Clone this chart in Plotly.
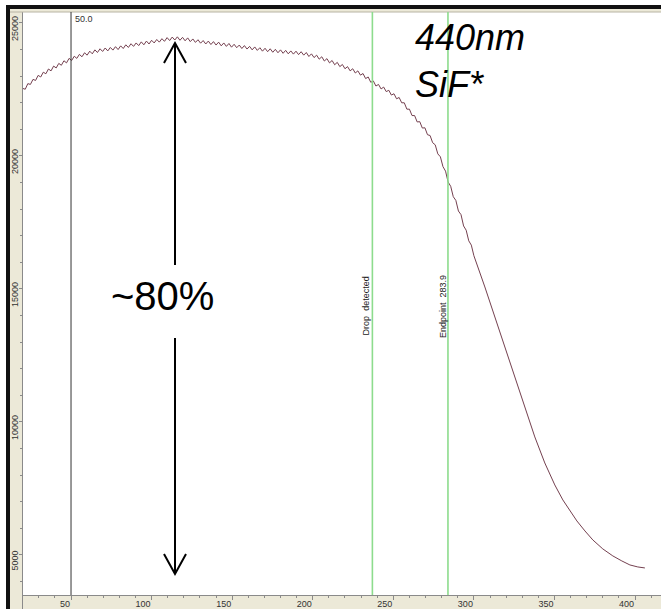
import numpy as np
import plotly.graph_objects as go

# ---- data ----
ripple_x_start = 20.0
ripple_x_step = 1.6
ripple_values = [
    22540, 22510, 22720, 22690, 22880, 22840, 23030, 22970, 23150, 23090,
    23270, 23200, 23380, 23310, 23480, 23410, 23580, 23500, 23670, 23590,
    23750, 23670, 23820, 23730, 23880, 23790, 23940, 23840, 23990, 23890,
    24030, 23930, 24060, 23950, 24080, 23980, 24110, 24000, 24140, 24040,
    24180, 24080, 24220, 24120, 24250, 24150, 24290, 24180, 24320, 24210,
    24350, 24250, 24380, 24280, 24410, 24310, 24450, 24340, 24470, 24360,
    24480, 24350, 24460, 24330, 24440, 24300, 24400, 24270, 24370, 24240,
    24340, 24210, 24320, 24190, 24300, 24170, 24280, 24140, 24250, 24120,
    24230, 24090, 24200, 24070, 24170, 24040, 24150, 24020, 24120, 23990,
    24100, 23970, 24070, 23940, 24050, 23920, 24030, 23900, 24010, 23880,
    23990, 23860, 23970, 23840, 23950, 23830, 23940, 23810, 23920, 23790,
    23890, 23740, 23840, 23700, 23790, 23640, 23730, 23570, 23660, 23500,
    23590, 23430, 23520, 23360, 23440, 23280, 23360, 23200, 23280, 23120,
    23200, 23040, 23100, 22910, 22970, 22770, 22820, 22630, 22690, 22520,
    22590, 22420, 22470, 22290, 22340, 22150, 22200, 22000, 22000, 21760,
    21760, 21520, 21520, 21280, 21290, 21050, 21060, 20800, 20770, 20500,
    20420, 20080, 19970, 19600, 19430, 19020, 18860, 18470, 18330, 17930,
    17795, 17370, 17210, 16810, 16650, 16250,
]
tail_x = [306.8, 313.0, 319.2, 325.4, 331.6, 337.8, 344.0, 350.2, 355.2,
          359.6, 363.9, 368.9, 373.8, 380.0, 386.2, 391.8, 396.8, 401.7, 406.1]
tail_values = [15076, 13949, 12821, 11655, 10528, 9438, 8460, 7633, 7069,
               6656, 6280, 5904, 5566, 5228, 4965, 4776, 4626, 4551, 4513]

cursor_x = 50.0
drop_x = 237.0
endpoint_x = 283.9

x_tickvals = [50, 100, 150, 200, 250, 300, 350, 400]
y_tickvals = [5000, 10000, 15000, 20000, 25000]

x_range = [20.2, 416.1]
y_range = [3496, 25413]

ripple_x = list(ripple_x_start + ripple_x_step * np.arange(len(ripple_values)))
xs = ripple_x + tail_x
ys = ripple_values + tail_values

# ---- figure ----
W, H = 661, 609
ML, MR, MT, MB = 23, 0, 12, 14
PW, PH = W - ML - MR, H - MT - MB

def px(x):
    return (x - ML) / PW

def py(y):
    return (H - MB - y) / PH

BEIGE = "#ECE9D8"
AXC = "#8a8a8a"
TICKFONT = dict(family="Liberation Sans, Arial, sans-serif", size=9, color="#333333")

fig = go.Figure()
fig.add_trace(go.Scatter(x=xs, y=ys, mode="lines",
                         line=dict(color="#74404f", width=1),
                         hoverinfo="skip", showlegend=False))

shapes = []
# beige strips and border
shapes.append(dict(type="rect", xref="paper", yref="paper", layer="below",
                   x0=px(10), x1=px(22), y0=py(H), y1=py(9),
                   fillcolor=BEIGE, line=dict(width=0)))
shapes.append(dict(type="rect", xref="paper", yref="paper", layer="below",
                   x0=px(10), x1=px(W + 5), y0=py(H + 5), y1=py(595),
                   fillcolor=BEIGE, line=dict(width=0)))
shapes.append(dict(type="rect", xref="paper", yref="paper", layer="below",
                   x0=px(10), x1=px(W + 5), y0=py(12), y1=py(9),
                   fillcolor=BEIGE, line=dict(width=0)))
shapes.append(dict(type="rect", xref="paper", yref="paper",
                   x0=px(6), x1=px(10), y0=py(H + 5), y1=py(5),
                   fillcolor="#111111", line=dict(width=0)))
shapes.append(dict(type="rect", xref="paper", yref="paper",
                   x0=px(6), x1=px(W + 5), y0=py(9), y1=py(5),
                   fillcolor="#111111", line=dict(width=0)))
shapes.append(dict(type="line", xref="paper", yref="paper",
                   x0=px(22.5), x1=px(22.5), y0=py(H), y1=py(595),
                   line=dict(color=AXC, width=1)))
shapes.append(dict(type="line", xref="paper", yref="paper",
                   x0=px(10), x1=px(W + 5), y0=py(12), y1=py(12),
                   line=dict(color="#b8b4a4", width=1)))

# vertical markers
shapes.append(dict(type="line", xref="x", yref="paper", x0=cursor_x, x1=cursor_x,
                   y0=0, y1=1, line=dict(color="#333333", width=1)))
shapes.append(dict(type="line", xref="x", yref="paper", x0=drop_x, x1=drop_x,
                   y0=0, y1=1, line=dict(color="#8ddc8d", width=1.6)))
shapes.append(dict(type="line", xref="x", yref="paper", x0=endpoint_x, x1=endpoint_x,
                   y0=0, y1=1, line=dict(color="#8ddc8d", width=1.6)))

# double arrow
ax = 175
shapes.append(dict(type="line", xref="paper", yref="paper",
                   x0=px(ax), x1=px(ax), y0=py(44), y1=py(265),
                   line=dict(color="black", width=2)))
shapes.append(dict(type="line", xref="paper", yref="paper",
                   x0=px(ax), x1=px(ax), y0=py(338), y1=py(573),
                   line=dict(color="black", width=2)))
shapes.append(dict(type="path", xref="paper", yref="paper",
                   path=f"M {px(ax-11)} {py(63)} L {px(ax)} {py(43)} L {px(ax+11)} {py(63)}",
                   line=dict(color="black", width=2)))
shapes.append(dict(type="path", xref="paper", yref="paper",
                   path=f"M {px(ax-11)} {py(554)} L {px(ax)} {py(574)} L {px(ax+11)} {py(554)}",
                   line=dict(color="black", width=2)))

annotations = [
    dict(x=cursor_x, y=1, xref="x", yref="paper", text="50.0", showarrow=False,
         xanchor="left", yanchor="top", xshift=2, yshift=0,
         font=dict(family="Liberation Sans, Arial, sans-serif", size=9, color="#333333")),
    dict(x=drop_x, y=py(306), xref="x", yref="paper", text="Drop  detected",
         showarrow=False, textangle=-90, xanchor="center", yanchor="middle", xshift=-6,
         font=dict(family="Liberation Sans, Arial, sans-serif", size=9, color="#222222")),
    dict(x=endpoint_x, y=py(306), xref="x", yref="paper", text="Endpoint  283.9",
         showarrow=False, textangle=-90, xanchor="center", yanchor="middle", xshift=-5,
         font=dict(family="Liberation Sans, Arial, sans-serif", size=9, color="#222222")),
    dict(x=px(413), y=py(15), xref="paper", yref="paper", text="<i>440nm<br>SiF*</i>",
         showarrow=False, xanchor="left", yanchor="top", align="left",
         font=dict(family="Liberation Sans, Arial, sans-serif", size=36, color="black")),
    dict(x=px(162), y=py(296), xref="paper", yref="paper", text="~80%",
         showarrow=False, xanchor="center", yanchor="middle",
         font=dict(family="Liberation Sans, Arial, sans-serif", size=40, color="black")),
]

fig.update_layout(
    width=W, height=H,
    margin=dict(l=ML, r=MR, t=MT, b=MB, pad=0),
    paper_bgcolor="white", plot_bgcolor="white",
    shapes=shapes, annotations=annotations,
    showlegend=False,
    xaxis=dict(range=x_range, tickvals=x_tickvals, ticktext=[str(v) for v in x_tickvals],
               ticks="outside", ticklen=4, tickcolor=AXC, tickwidth=1,
               ticklabelposition="outside left", ticklabelstandoff=0,
               minor=dict(dtick=10, ticks="outside", ticklen=2, tickcolor=AXC, showgrid=False),
               showline=True, linecolor=AXC, linewidth=1, mirror=False,
               showgrid=False, zeroline=False, tickfont=TICKFONT),
    yaxis=dict(range=y_range, tickvals=y_tickvals, ticktext=[str(v) for v in y_tickvals],
               ticks="outside", ticklen=3, tickcolor=AXC, tickwidth=1,
               tickangle=-90, ticklabelposition="outside bottom", ticklabelstandoff=0,
               minor=dict(dtick=1000, ticks="outside", ticklen=2, tickcolor=AXC, showgrid=False),
               showline=True, linecolor=AXC, linewidth=1,
               showgrid=False, zeroline=False, tickfont=TICKFONT),
)

fig.write_html("out.html")
